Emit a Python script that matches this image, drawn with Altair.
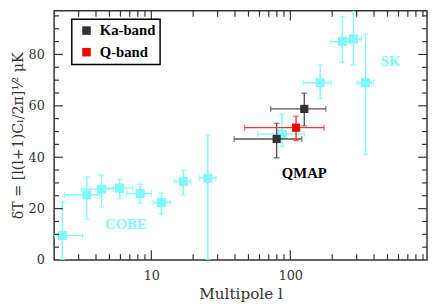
import altair as alt
import pandas as pd

# ---------------- data ----------------
# COBE + SK points (cyan)
cyan_l = [2.29, 3.44, 4.39, 5.92, 8.32, 11.8, 17.0, 25.5, 87.3, 164, 237, 284, 347]
cyan_dT = [9.5, 25.4, 27.6, 28.0, 25.9, 22.4, 30.5, 31.8, 49.0, 69.0, 85.0, 86.0, 69.0]
cyan_l_lo = [2.0, 2.38, 3.14, 4.64, 6.66, 10.3, 14.7, 22.1, 58.1, 124, 196, 250, 303]
cyan_l_hi = [3.21, 4.27, 5.31, 7.34, 10.0, 13.7, 19.2, 29.2, 126, 196, 265, 324, 398]
cyan_dT_lo = [0, 15.9, 20.7, 23.8, 22.3, 17.8, 25.3, 0, 44.2, 63.0, 76.9, 75.9, 41.1]
cyan_dT_hi = [22.6, 32.3, 33.1, 31.5, 29.5, 26.1, 34.9, 48.6, 56.9, 75.9, 94.8, 98.0, 87.9]

# QMAP points
qmap_band = ["Ka-band", "Ka-band", "Q-band"]
qmap_l = [79.7, 126, 110]
qmap_dT = [47.1, 58.8, 51.5]
qmap_l_lo = [39.4, 72.2, 46.8]
qmap_l_hi = [121, 180, 175]
qmap_dT_lo = [39.8, 52.2, 46.5]
qmap_dT_hi = [53.2, 64.9, 56.0]

bands = ["Ka-band", "Q-band"]

# annotations
cyan_label_text = ["COBE", "SK"]
cyan_label_l = [6.56, 527]
cyan_label_dT = [12.0, 75.5]
qmap_label_text = ["QMAP"]
qmap_label_l = [126]
qmap_label_dT = [31.9]

# axis ticks
y_labels = [0, 20, 40, 60, 80]
y_major = [20, 40, 60, 80]
y_minor = [5, 10, 15, 25, 30, 35, 45, 50, 55, 65, 70, 75, 85, 90, 95]
x_labels = [10, 100]
x_major = [10, 100]
x_minor = [3, 4, 5, 6, 7, 8, 9, 20, 30, 40, 50, 60, 70, 80, 90,
           200, 300, 400, 500, 600, 700, 800, 900]

# ---------------- layout ----------------
W, H = 380, 254
CYAN = "#80F8F8"
FRAME = "#333333"
FONT = "DejaVu Serif"
BOLD = "Liberation Serif"

XS = alt.Scale(type="log", domain=[2, 962], nice=False)
YS = alt.Scale(domain=[0, 97], nice=False, zero=False)

cyan = pd.DataFrame(dict(l=cyan_l, dT=cyan_dT, l_lo=cyan_l_lo, l_hi=cyan_l_hi,
                         dT_lo=cyan_dT_lo, dT_hi=cyan_dT_hi))
qmap = pd.DataFrame(dict(band=qmap_band, l=qmap_l, dT=qmap_dT, l_lo=qmap_l_lo,
                         l_hi=qmap_l_hi, dT_lo=qmap_dT_lo, dT_hi=qmap_dT_hi))


def xq(field="l"):
    return alt.X(f"{field}:Q", scale=XS)


def yq(field="dT"):
    return alt.Y(f"{field}:Q", scale=YS)


def errorbars(base, color):
    sw = 1.4
    vbar = base.mark_rule(color=color, strokeWidth=sw, clip=True).encode(
        x=xq("l"), y=yq("dT_lo"), y2="dT_hi:Q")
    hbar = base.mark_rule(color=color, strokeWidth=sw, clip=True).encode(
        x=xq("l_lo"), x2="l_hi:Q", y=yq("dT"))
    cap_top = base.mark_tick(color=color, orient="horizontal", size=6,
                             thickness=sw, clip=True).encode(x=xq("l"), y=yq("dT_hi"))
    cap_bot = base.mark_tick(color=color, orient="horizontal", size=6,
                             thickness=sw, clip=True).encode(x=xq("l"), y=yq("dT_lo"))
    cap_l = base.mark_tick(color=color, orient="vertical", size=6,
                           thickness=sw, clip=True).encode(x=xq("l_lo"), y=yq("dT"))
    cap_r = base.mark_tick(color=color, orient="vertical", size=6,
                           thickness=sw, clip=True).encode(x=xq("l_hi"), y=yq("dT"))
    return [vbar, hbar, cap_top, cap_bot, cap_l, cap_r]


x_axis = alt.Axis(values=x_labels, format="d", ticks=False, tickSize=0, domain=False,
                  grid=False, labelPadding=10, labelFont=FONT, labelFontSize=13,
                  labelColor=FRAME, title="Multipole l", titleFont=FONT,
                  titleFontSize=15.5, titleFontWeight="normal", titleColor=FRAME,
                  titlePadding=4)
y_axis = alt.Axis(values=y_labels, ticks=False, tickSize=0, domain=False, grid=False,
                  labelPadding=10, labelFont=FONT, labelFontSize=13, labelColor=FRAME,
                  title="δT = [l(l+1)Cₗ/2π]¹⁄² μK", titleFont=FONT, titleFontSize=14.5,
                  titleFontWeight="normal", titleColor=FRAME, titlePadding=3)

cyan_base = alt.Chart(cyan)
layers = []

# first layer carries the axes
layers.append(cyan_base.mark_square(size=85, color=CYAN, opacity=0).encode(
    x=alt.X("l:Q", scale=XS, axis=x_axis), y=alt.Y("dT:Q", scale=YS, axis=y_axis)))
layers += errorbars(cyan_base, CYAN)
layers.append(cyan_base.mark_square(size=85, color=CYAN, opacity=1).encode(
    x=xq("l"), y=yq("dT")))

qmap_base = alt.Chart(qmap)
layers += errorbars(qmap_base.transform_filter(alt.datum.band == "Ka-band"), "#555555")
layers += errorbars(qmap_base.transform_filter(alt.datum.band == "Q-band"), "#FF3030")
layers.append(qmap_base.mark_square(size=70, opacity=1).encode(
    x=xq("l"), y=yq("dT"),
    color=alt.Color("band:N", scale=alt.Scale(domain=bands, range=["#333333", "#FF0000"]),
                    legend=alt.Legend(orient="none", legendX=18, legendY=8.7, title=None,
                                      symbolType="square", symbolSize=75,
                                      symbolStrokeWidth=0, symbolOpacity=1,
                                      labelFont=BOLD, labelFontWeight="bold",
                                      labelFontSize=15, labelColor="black",
                                      labelOffset=6, strokeColor="black",
                                      fillColor="white", padding=4,
                                      symbolOffset=3.5, rowPadding=6))))

# annotations
cl = pd.DataFrame(dict(text=cyan_label_text, l=cyan_label_l, dT=cyan_label_dT))
ql = pd.DataFrame(dict(text=qmap_label_text, l=qmap_label_l, dT=qmap_label_dT))
layers.append(alt.Chart(cl).mark_text(font=BOLD, fontWeight="bold", fontSize=15,
                                      color=CYAN, baseline="alphabetic").encode(
    x=xq("l"), y=yq("dT"), text="text:N"))
layers.append(alt.Chart(ql).mark_text(font=BOLD, fontWeight="bold", fontSize=15,
                                      color="black", baseline="alphabetic").encode(
    x=xq("l"), y=yq("dT"), text="text:N"))

# frame ticks
tick_color = FRAME
yM = alt.Chart(pd.DataFrame(dict(v=y_major)))
ym = alt.Chart(pd.DataFrame(dict(v=y_minor)))
xM = alt.Chart(pd.DataFrame(dict(v=x_major)))
xm = alt.Chart(pd.DataFrame(dict(v=x_minor)))
for src, ln in ((yM, 9), (ym, 5)):
    layers.append(src.mark_rule(color=tick_color, strokeWidth=1.2).encode(
        y=yq("v"), x=alt.value(0), x2=alt.value(ln)))
    layers.append(src.mark_rule(color=tick_color, strokeWidth=1.2).encode(
        y=yq("v"), x=alt.value(W), x2=alt.value(W - ln)))
for src, ln in ((xM, 10), (xm, 6)):
    layers.append(src.mark_rule(color=tick_color, strokeWidth=1.2).encode(
        x=xq("v"), y=alt.value(H), y2=alt.value(H - ln)))
    layers.append(src.mark_rule(color=tick_color, strokeWidth=1.2).encode(
        x=xq("v"), y=alt.value(0), y2=alt.value(ln)))

chart = alt.layer(*layers).properties(
    width=W, height=H,
    background="white",
    autosize=alt.AutoSizeParams(type="none"),
    padding={"left": 47, "top": 0, "right": 1, "bottom": 42},
).configure_view(stroke=FRAME, strokeWidth=1.5).configure_legend(strokeWidth=1.5)

chart.save("out.html", embed_options={"renderer": "svg", "actions": False})
